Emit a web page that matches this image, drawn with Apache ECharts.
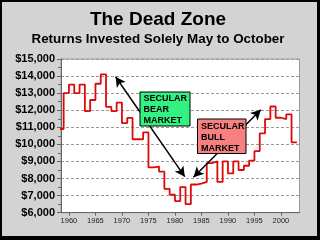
<!DOCTYPE html>
<html><head><meta charset="utf-8">
<script src="https://cdn.jsdelivr.net/npm/echarts@6/dist/echarts.min.js"></script>
<style>html,body{margin:0;padding:0;background:#d3d3d3}#c{width:320px;height:240px}</style>
</head><body><div id="c"></div>
<script>
const titleText = 'The Dead Zone';
const subtitleText = 'Returns Invested Solely May to October';
const years = [1958,1959,1960,1961,1962,1963,1964,1965,1966,1967,1968,1969,1970,1971,1972,1973,1974,1975,1976,1977,1978,1979,1980,1981,1982,1983,1984,1985,1986,1987,1988,1989,1990,1991,1992,1993,1994,1995,1996,1997,1998,1999,2000,2001,2002,2003];
const values = [10900,13000,13500,13000,13500,11950,12600,13550,14100,12200,11950,12450,11250,11550,10300,10300,10700,8650,8700,8400,7400,7050,6680,7500,6500,7650,7700,7800,8900,9000,7800,9000,8300,9000,8500,8750,9050,9600,10650,11480,12220,11560,11480,11760,10120,10120];
const xTickYears = [1960,1965,1970,1975,1980,1985,1990,1995,2000];
const bearLabel = ['SECULAR','BEAR','MARKET'];
const bullLabel = ['SECULAR','BULL','MARKET'];

const FONT = '"Liberation Sans", Arial, sans-serif';
const chart = echarts.init(document.getElementById('c'), null, {renderer:'canvas'});
const fmt = v => '$' + String(v).replace(/\B(?=(\d{3})+(?!\d))/g, ',');

chart.setOption({
  animation: false,
  backgroundColor: '#d3d3d3',
  grid: {left: 61, right: 20.5, top: 59, bottom: 27.3, show: true, backgroundColor: '#fff', borderColor: '#9a9a9a', borderWidth: 1},
  xAxis: {
    type: 'value', min: 1958.5, max: 2003.5,
    axisLine: {show: true, onZero: false, lineStyle: {color: '#666'}},
    axisTick: {show: true, customValues: xTickYears, length: 3, lineStyle: {color: '#666'}},
    axisLabel: {customValues: xTickYears, formatter: v => String(Math.round(v)), fontSize: 7.5, color: '#222', margin: 4, fontFamily: FONT},
    splitLine: {show: false}
  },
  yAxis: {
    type: 'value', min: 6000, max: 15000, interval: 1000,
    axisLine: {show: true, lineStyle: {color: '#666'}},
    axisTick: {show: true, length: 4, lineStyle: {color: '#666'}},
    minorTick: {show: true, splitNumber: 2, length: 3, lineStyle: {color: '#666'}},
    splitLine: {show: true, lineStyle: {color: '#999', type: [3, 2], width: 1}},
    axisLabel: {formatter: fmt, fontFamily: FONT, fontWeight: 'bold', fontSize: 11, color: '#000', margin: 6, showMinLabel: true, showMaxLabel: true}
  },
  series: [{
    type: 'line', step: 'end', showSymbol: false, clip: true,
    data: years.map((y, i) => [y, values[i]]),
    lineStyle: {color: '#dd0a0a', width: 1.8},
    silent: true,
    markLine: {
      silent: true, animation: false,
      symbol: ['arrow', 'arrow'], symbolSize: [8, 10],
      lineStyle: {color: '#000', width: 1.5, type: 'solid'},
      itemStyle: {color: '#000'},
      label: {show: false},
      emphasis: {disabled: true},
      data: [
        [{coord: [1968.8, 13960]}, {coord: [1981.85, 8110]}],
        [{coord: [1983.5, 8080]}, {coord: [1996.2, 12025]}]
      ]
    }
  }],
  graphic: [
    {type: 'text', x: 158, y: 20, z: 100, style: {text: titleText, fontFamily: FONT, fontWeight: 'bold', fontSize: 19, fill: '#000', align: 'center', verticalAlign: 'middle'}},
    {type: 'text', x: 158, y: 39.5, z: 100, style: {text: subtitleText, fontFamily: FONT, fontWeight: 'bold', fontSize: 13.4, fill: '#000', align: 'center', verticalAlign: 'middle'}},
    {type: 'rect', z: 100, shape: {x: 140, y: 92, width: 50, height: 34}, style: {fill: '#33f283', stroke: '#000', lineWidth: 1}},
    {type: 'text', x: 143.5, y: 93, z: 101, style: {text: bearLabel.join('\n'), fontFamily: FONT, fontWeight: 'bold', fontSize: 9, lineHeight: 11, fill: '#000', align: 'left', verticalAlign: 'top'}},
    {type: 'rect', z: 100, shape: {x: 197.5, y: 119, width: 48.5, height: 34.5}, style: {fill: '#f98080', stroke: '#000', lineWidth: 1}},
    {type: 'text', x: 201, y: 121.2, z: 101, style: {text: bullLabel.join('\n'), fontFamily: FONT, fontWeight: 'bold', fontSize: 9, lineHeight: 11, fill: '#000', align: 'left', verticalAlign: 'top'}},
    {type: 'rect', z: 120, shape: {x: 0, y: 0, width: 2, height: 240}, style: {fill: '#000'}},
    {type: 'rect', z: 120, shape: {x: 0, y: 0, width: 320, height: 2}, style: {fill: '#000'}},
    {type: 'rect', z: 120, shape: {x: 317, y: 0, width: 3, height: 240}, style: {fill: '#000'}},
    {type: 'rect', z: 120, shape: {x: 0, y: 236, width: 320, height: 4}, style: {fill: '#000'}}
  ]
});
</script></body></html>
